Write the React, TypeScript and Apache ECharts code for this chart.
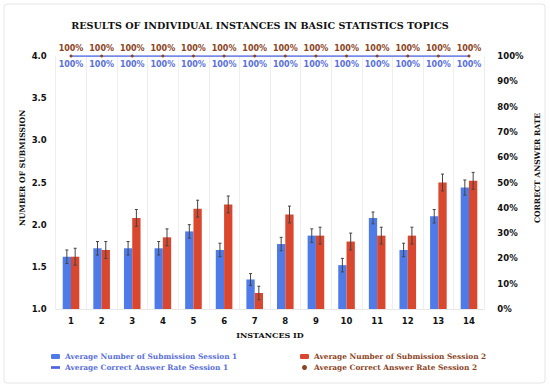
import React, { useEffect, useRef } from "react";
import * as echarts from "echarts";

const categories = ["1", "2", "3", "4", "5", "6", "7", "8", "9", "10", "11", "12", "13", "14"];
const submission1 = [1.62, 1.72, 1.72, 1.72, 1.92, 1.70, 1.35, 1.77, 1.87, 1.52, 2.08, 1.70, 2.10, 2.44];
const submission2 = [1.62, 1.70, 2.08, 1.85, 2.19, 2.24, 1.19, 2.12, 1.87, 1.80, 1.87, 1.87, 2.50, 2.52];
const err1 = [0.08, 0.08, 0.08, 0.08, 0.08, 0.08, 0.07, 0.08, 0.08, 0.08, 0.07, 0.08, 0.08, 0.09];
const err2 = [0.1, 0.1, 0.1, 0.1, 0.1, 0.1, 0.08, 0.1, 0.1, 0.1, 0.1, 0.1, 0.1, 0.1];
const rate1 = [100, 100, 100, 100, 100, 100, 100, 100, 100, 100, 100, 100, 100, 100];
const rate2 = [100, 100, 100, 100, 100, 100, 100, 100, 100, 100, 100, 100, 100, 100];

const names = [
  "Average Number of Submission Session 1",
  "Average Number of Submission Session 2",
  "Average Correct Answer Rate Session 1",
  "Average Correct Answer Rate Session 2",
];

const BLUE = "#4f7be8";
const RED = "#d9472f";
const BLUE_TXT = "#5a6fd8";
const BROWN_TXT = "#8b4424";
const LINE_BLUE = "#4d63e0";
const BAR_W = 8.3;

export default function App() {
  const ref = useRef<HTMLDivElement>(null);
  useEffect(() => {
    if (!ref.current) return;
    const chart = echarts.init(ref.current, null, { renderer: "svg" });
    const errRender = (side: number) => (params: any, api: any) => {
      const idx = api.value(0);
      const v = api.value(1);
      const e = api.value(2);
      const top = api.coord([idx, v + e]);
      const bot = api.coord([idx, v - e]);
      const x = top[0] + side * BAR_W / 2;
      const st = { stroke: "#444", lineWidth: 1 };
      return {
        type: "group",
        children: [
          { type: "line", shape: { x1: x, y1: top[1], x2: x, y2: bot[1] }, style: st },
          { type: "line", shape: { x1: x - 1.5, y1: top[1], x2: x + 1.5, y2: top[1] }, style: st },
          { type: "line", shape: { x1: x - 1.5, y1: bot[1], x2: x + 1.5, y2: bot[1] }, style: st },
        ],
      };
    };
    const axisFont = { fontFamily: "DejaVu Sans", fontWeight: "bold", fontSize: 8.5, color: "#111" };
    const nameFont = { fontFamily: "DejaVu Serif", fontWeight: "bold", fontSize: 7.6, fill: "#111" };
    const legendText = { fontFamily: "DejaVu Serif", fontWeight: "bold", fontSize: 7.4 };
    chart.setOption({
      animation: false,
      backgroundColor: "#fff",
      title: {
        text: "RESULTS OF INDIVIDUAL INSTANCES IN BASIC STATISTICS TOPICS",
        left: 255,
        textAlign: "center",
        top: 15,
        textStyle: { fontFamily: "DejaVu Serif", fontWeight: "bold", fontSize: 9.6, color: "#111" },
      },
      graphic: [
        {
          type: "rect",
          shape: { x: 4, y: 4, width: 541, height: 379, r: 3 },
          style: { fill: "none", stroke: "#e6e6e6", lineWidth: 1 },
          z: -1,
        },
        {
          type: "text",
          x: 22,
          y: 168,
          rotation: Math.PI / 2,
          style: { ...nameFont, text: "NUMBER OF SUBMISSION", textAlign: "center", textVerticalAlign: "middle" },
        },
        {
          type: "text",
          x: 537,
          y: 168,
          rotation: Math.PI / 2,
          style: { ...nameFont, text: "CORRECT ANSWER RATE", textAlign: "center", textVerticalAlign: "middle" },
        },
      ],
      legend: [
        {
          left: 46,
          top: 348,
          orient: "vertical",
          itemGap: 4,
          itemWidth: 9,
          itemHeight: 5,
          data: [
            { name: names[0], textStyle: { ...legendText, color: BLUE_TXT } },
            {
              name: names[2],
              icon: "path://M0,0 L10,0 L10,3 L0,3 Z",
              itemStyle: { color: LINE_BLUE },
              textStyle: { ...legendText, color: BLUE_TXT },
            },
          ],
        },
        {
          left: 295,
          top: 348,
          orient: "vertical",
          itemGap: 4,
          itemWidth: 9,
          itemHeight: 5,
          data: [
            { name: names[1], textStyle: { ...legendText, color: BROWN_TXT } },
            { name: names[3], icon: "circle", itemStyle: { color: BROWN_TXT, opacity: 1 }, textStyle: { ...legendText, color: BROWN_TXT } },
          ],
        },
      ],
      grid: { left: 55.7, right: 65.7, top: 56, bottom: 78 },
      xAxis: {
        type: "category",
        data: categories,
        name: "INSTANCES ID",
        nameLocation: "middle",
        nameGap: 22,
        nameTextStyle: { fontFamily: "DejaVu Serif", fontWeight: "bold", fontSize: 8, color: "#111" },
        axisLine: { lineStyle: { color: "#e8e8e8" } },
        axisTick: { show: false },
        axisLabel: { ...axisFont, margin: 7 },
        splitLine: { show: true, lineStyle: { color: "#eeeeee" } },
      },
      yAxis: [
        {
          type: "value",
          min: 1,
          max: 4,
          interval: 0.5,
          axisLine: { show: false },
          axisTick: { show: false },
          axisLabel: { ...axisFont, margin: 9, formatter: (v: number) => v.toFixed(1) },
          splitLine: { show: false },
        },
        {
          type: "value",
          min: 0,
          max: 100,
          interval: 10,
          axisLine: { show: false },
          axisTick: { show: false },
          axisLabel: { ...axisFont, margin: 13, formatter: (v: number) => v + "%" },
          splitLine: { show: false },
        },
      ],
      series: [
        {
          name: names[0],
          type: "bar",
          data: submission1,
          barWidth: BAR_W,
          barGap: "0%",
          itemStyle: { color: BLUE },
        },
        {
          name: names[1],
          type: "bar",
          data: submission2,
          barWidth: BAR_W,
          barGap: "0%",
          itemStyle: { color: RED },
        },
        {
          type: "custom",
          renderItem: errRender(-1),
          data: submission1.map((v, i) => [i, v, err1[i]]),
          z: 5,
          silent: true,
        },
        {
          type: "custom",
          renderItem: errRender(1),
          data: submission2.map((v, i) => [i, v, err2[i]]),
          z: 5,
          silent: true,
        },
        {
          name: names[2],
          type: "line",
          yAxisIndex: 1,
          data: rate1,
          symbol: "circle",
          symbolSize: 1,
          showSymbol: true,
          lineStyle: { color: LINE_BLUE, width: 1.6 },
          itemStyle: { color: LINE_BLUE },
          labelLayout: { hideOverlap: false },
          z: 3,
          label: {
            show: true,
            position: "bottom",
            distance: 4,
            formatter: (p: any) => p.value + "%",
            fontFamily: "DejaVu Sans",
            fontWeight: "bold",
            fontSize: 8,
            color: BLUE_TXT,
          },
        },
        {
          name: names[3],
          type: "scatter",
          yAxisIndex: 1,
          data: rate2,
          symbol: "circle",
          symbolSize: 3,
          itemStyle: { color: BROWN_TXT, opacity: 1 },
          z: 4,
          label: {
            show: true,
            position: "top",
            distance: 2,
            formatter: (p: any) => p.value + "%",
            fontFamily: "DejaVu Sans",
            fontWeight: "bold",
            fontSize: 8,
            color: BROWN_TXT,
          },
        },
      ],
    });
    return () => chart.dispose();
  }, []);
  return <div ref={ref} style={{ width: 550, height: 387, position: "absolute", left: 0, top: 0 }} />;
}
